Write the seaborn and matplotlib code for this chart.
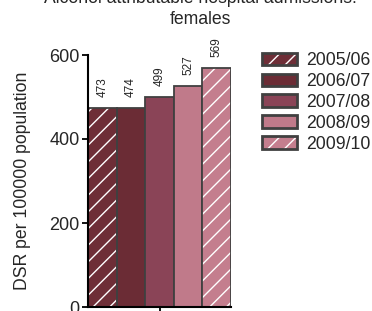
import matplotlib
matplotlib.use('Agg')
from matplotlib import pyplot as plt
from matplotlib.patches import Patch, Rectangle
from matplotlib.legend_handler import HandlerTuple
import pandas as pd
import seaborn as sns

# data
periods = ['2005/06', '2006/07', '2007/08', '2008/09', '2009/10']
dsr = [473, 474, 499, 527, 569]
colours = ['#6e2e37', '#6b2c35', '#8a4457', '#c07a8a', '#c47e8e']
hatched = [True, False, False, False, True]

df = pd.DataFrame({'group': ['females'] * len(periods), 'period': periods, 'DSR': dsr})

sns.set_style('ticks')
plt.rcParams['font.family'] = ['Liberation Sans', 'DejaVu Sans']

fig = plt.figure(figsize=(3.72, 3.11), dpi=100)
ax = fig.add_axes([88 / 372, 1 - 307 / 311, 143 / 372, 252 / 311])

edge = '#404040'
sns.barplot(data=df, x='group', y='DSR', hue='period', hue_order=periods,
            palette=colours, width=1, gap=0, saturation=1, dodge=True,
            edgecolor=edge, linewidth=1.3, legend=False, ax=ax)

# white hatching with a dark outline on top
bars = list(ax.patches)
for bar, h in zip(bars, hatched):
    if h:
        bar.set_hatch('//')
        bar.set_edgecolor('white')
        bar.set_linewidth(0)
        ax.add_patch(Rectangle(bar.get_xy(), bar.get_width(), bar.get_height(),
                               fill=False, edgecolor=edge, linewidth=1.3, zorder=bar.get_zorder() + 0.1))

for cont in ax.containers:
    ax.bar_label(cont, fmt='%d', rotation=90, padding=8, fontsize=8.5, clip_on=False)

ax.set_xlim(-0.5, 0.5)
ax.set_ylim(0, 600)
ax.set_yticks([0, 200, 400, 600])
ax.set_xticks([0])
ax.set_xticklabels([''])
ax.set_xlabel('')
ax.set_ylabel('DSR per 100000 population', fontsize=12.7, labelpad=13)
ax.tick_params(axis='y', labelsize=13, length=4, width=1.3, color='black', pad=2)
ax.tick_params(axis='x', length=5, width=1.3, color='black')
for side in ['right', 'top']:
    ax.spines[side].set_visible(False)
for side in ['left', 'bottom']:
    ax.spines[side].set_color('black')
    ax.spines[side].set_linewidth(1.5)

# legend
handles = []
for c, h in zip(colours, hatched):
    if h:
        handles.append((Patch(facecolor=c, edgecolor='white', hatch='//', linewidth=0),
                        Patch(fill=False, edgecolor=edge, linewidth=2)))
    else:
        handles.append(Patch(facecolor=c, edgecolor=edge, linewidth=2))
fig.legend(handles, periods, loc='upper left', bbox_to_anchor=(262 / 372, 1 - 52 / 311),
           frameon=False, fontsize=12.7, handlelength=2.0, handleheight=0.7,
           handletextpad=0.5, labelspacing=0.22, borderpad=0, borderaxespad=0,
           handler_map={tuple: HandlerTuple(ndivide=1, pad=0)})

# title: first line sits mostly above the top edge, as in the original
fig.text(200 / 372, 1 - 3 / 311, 'Alcohol attributable hospital admissions:',
         ha='center', va='baseline', fontsize=12.7)
fig.text(200 / 372, 1 - 24 / 311, 'females', ha='center', va='baseline', fontsize=12.7)

fig.savefig('out.png', dpi=100)
